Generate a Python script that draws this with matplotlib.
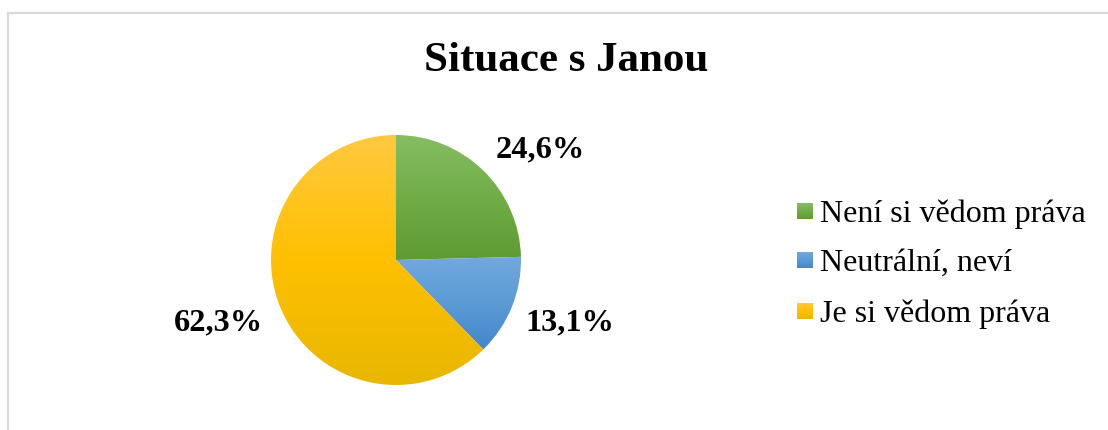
import numpy as np
import matplotlib
matplotlib.use("Agg")
import matplotlib.pyplot as plt
from matplotlib.colors import LinearSegmentedColormap
from matplotlib.lines import Line2D

# ---- data ----
title = "Situace s Janou"
categories = ["Není si vědom práva", "Neutrální, neví", "Je si vědom práva"]
values = [24.6, 13.1, 62.3]
value_labels = ["24,6%", "13,1%", "62,3%"]

# ---- style ----
grad_colors = [
    ["#86BD64", "#70AD47", "#5E9B33"],
    ["#73A8DE", "#5B9BD5", "#4386CB"],
    ["#FFC840", "#FFC000", "#E8B700"],
]
label_pos = [(1.152, 0.88), (1.39, -0.504), (-1.424, -0.504)]
SERIF = ["Liberation Serif", "DejaVu Serif"]

W, H = 1108, 430
fig = plt.figure(figsize=(W / 100, H / 100), dpi=100)
fig.patch.set_facecolor("white")

# border (top and left lines)
fig.add_artist(Line2D([8 / W, 8 / W], [0, 1 - 13 / H], color="#d9d9d9", lw=1.6))
fig.add_artist(Line2D([8 / W, 1], [1 - 13 / H, 1 - 13 / H], color="#d9d9d9", lw=1.6))

cx, cy, r = 396, 430 - 260, 125
ax = fig.add_axes([(cx - r) / W, (cy - r) / H, 2 * r / W, 2 * r / H])
wedges, _ = ax.pie(values, startangle=90, counterclock=False, radius=1,
                   wedgeprops=dict(linewidth=0, edgecolor="none"))
ax.set_aspect("equal")
ax.axis("off")

grad = np.linspace(0, 1, 256).reshape(-1, 1)


def gradient_fill(axis, patch, cols):
    patch.set_facecolor("none")
    verts = patch.get_transform().transform(patch.get_path().vertices)
    verts = axis.transData.inverted().transform(verts)
    x0, x1 = verts[:, 0].min(), verts[:, 0].max()
    y0, y1 = verts[:, 1].min(), verts[:, 1].max()
    cmap = LinearSegmentedColormap.from_list("g", cols[::-1])
    im = axis.imshow(grad, cmap=cmap, extent=[x0, x1, y0, y1], origin="lower",
                     aspect="auto", interpolation="bilinear", zorder=1)
    im.set_clip_path(patch)


ax.set_xlim(-1, 1)
ax.set_ylim(-1, 1)
for w, cols in zip(wedges, grad_colors):
    gradient_fill(ax, w, cols)
ax.set_xlim(-1, 1)
ax.set_ylim(-1, 1)

for (tx, ty), lab in zip(label_pos, value_labels):
    ax.text(tx, ty, lab, ha="center", va="center", fontsize=23.3,
            fontweight="bold", family=SERIF, clip_on=False)

fig.text(566 / W, 1 - 61 / H, title, ha="center", va="center", fontsize=31,
         fontweight="bold", family=SERIF)

# legend
leg_y = [213, 262, 313]
lax = fig.add_axes([0, 0, 1, 1], zorder=-1)
lax.set_xlim(0, W)
lax.set_ylim(H, 0)
lax.axis("off")
for cols, name, y in zip(grad_colors, categories, leg_y):
    sq = plt.Rectangle((797, y - 10), 16, 16, facecolor="none", edgecolor="none")
    lax.add_patch(sq)
    cmap = LinearSegmentedColormap.from_list("g", cols)
    im = lax.imshow(grad, cmap=cmap, extent=[797, 813, y + 6, y - 10],
                    origin="upper", aspect="auto", interpolation="bilinear")
    im.set_clip_path(sq)
    lax.text(820, y + 1, name, ha="left", va="center", fontsize=23,
             family=SERIF)
lax.set_xlim(0, W)
lax.set_ylim(H, 0)

fig.savefig("out.png", dpi=100, facecolor="white")
